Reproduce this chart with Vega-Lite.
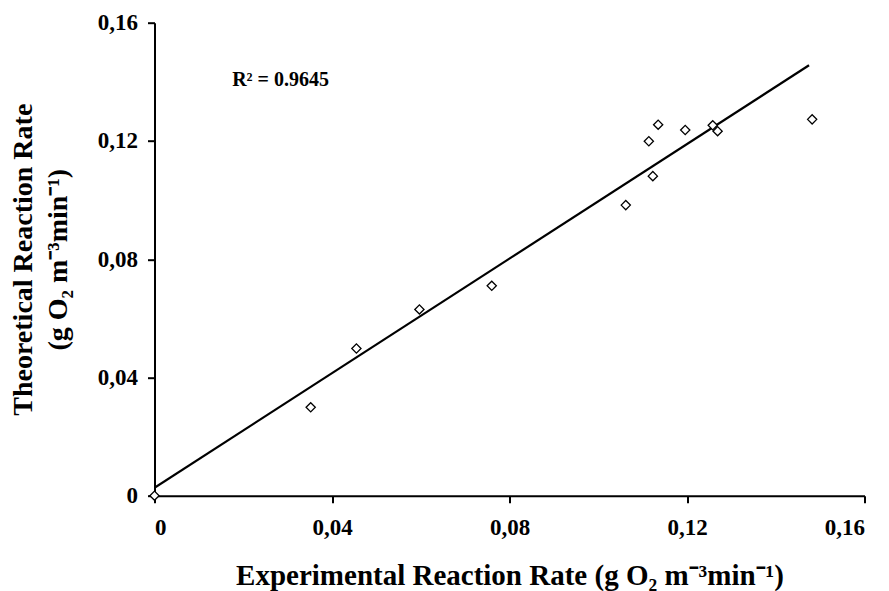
{
  "$schema": "https://vega.github.io/schema/vega-lite/v6.json",
  "width": 710,
  "height": 473,
  "autosize": {"type": "none"},
  "padding": {"left": 154.5, "top": 22.7, "right": 24.5, "bottom": 95.3},
  "background": "white",
  "config": {
    "view": {"stroke": null},
    "font": "Liberation Serif",
    "axis": {
      "grid": false,
      "domainColor": "black",
      "domainWidth": 2,
      "tickColor": "black",
      "tickWidth": 2,
      "tickSize": 7,
      "labelFont": "Liberation Serif",
      "labelFontWeight": "bold",
      "labelFontSize": 23,
      "labelColor": "black",
      "titleFont": "Liberation Serif",
      "titleFontWeight": "bold",
      "titleColor": "black"
    }
  },
  "datasets": {
    "points": [
      {"x": 0.0, "y": 0.0},
      {"x": 0.0352, "y": 0.0299},
      {"x": 0.0455, "y": 0.0498},
      {"x": 0.0597, "y": 0.0630},
      {"x": 0.0760, "y": 0.0710},
      {"x": 0.1062, "y": 0.0983},
      {"x": 0.1114, "y": 0.1199},
      {"x": 0.1123, "y": 0.1081},
      {"x": 0.1135, "y": 0.1255},
      {"x": 0.1196, "y": 0.1237},
      {"x": 0.1258, "y": 0.1253},
      {"x": 0.1269, "y": 0.1233},
      {"x": 0.1482, "y": 0.1273}
    ],
    "fit": [
      {"x": 0.0, "y": 0.0027},
      {"x": 0.1475, "y": 0.1456}
    ],
    "note": [
      {"x": 0.0175, "y": 0.1386, "label": "R² = 0.9645"}
    ]
  },
  "layer": [
    {
      "data": {"name": "fit"},
      "mark": {"type": "line", "color": "black", "strokeWidth": 2.2, "clip": true},
      "encoding": {
        "x": {
          "field": "x", "type": "quantitative",
          "scale": {"domain": [0, 0.16], "nice": false, "zero": true},
          "axis": {
            "values": [0, 0.04, 0.08, 0.12, 0.16],
            "labelExpr": "datum.value == 0 ? '0' : replace(format(datum.value, '.2f'), '.', ',')",
            "labelPadding": 14,
            "title": "Experimental Reaction Rate (g O₂ m⁻³min⁻¹)",
            "titleFontSize": 29,
            "titlePadding": 22
          }
        },
        "y": {
          "field": "y", "type": "quantitative",
          "scale": {"domain": [0, 0.16], "nice": false, "zero": true},
          "axis": {
            "values": [0, 0.04, 0.08, 0.12, 0.16],
            "labelExpr": "datum.value == 0 ? '0' : replace(format(datum.value, '.2f'), '.', ',')",
            "labelPadding": 10,
            "title": ["Theoretical Reaction Rate", "(g O₂ m⁻³min⁻¹)"],
            "titleFontSize": 28,
            "titleLineHeight": 35,
            "titlePadding": 25
          }
        }
      }
    },
    {
      "data": {"name": "points"},
      "mark": {"type": "point", "shape": "diamond", "filled": false, "stroke": "black", "fill": "white", "fillOpacity": 1, "strokeWidth": 1.3, "size": 85, "opacity": 1},
      "encoding": {
        "x": {"field": "x", "type": "quantitative"},
        "y": {"field": "y", "type": "quantitative"}
      }
    },
    {
      "data": {"name": "note"},
      "mark": {"type": "text", "align": "left", "baseline": "alphabetic", "font": "Liberation Serif", "fontWeight": "bold", "fontSize": 20, "color": "black"},
      "encoding": {
        "x": {"field": "x", "type": "quantitative"},
        "y": {"field": "y", "type": "quantitative"},
        "text": {"field": "label"}
      }
    }
  ]
}
